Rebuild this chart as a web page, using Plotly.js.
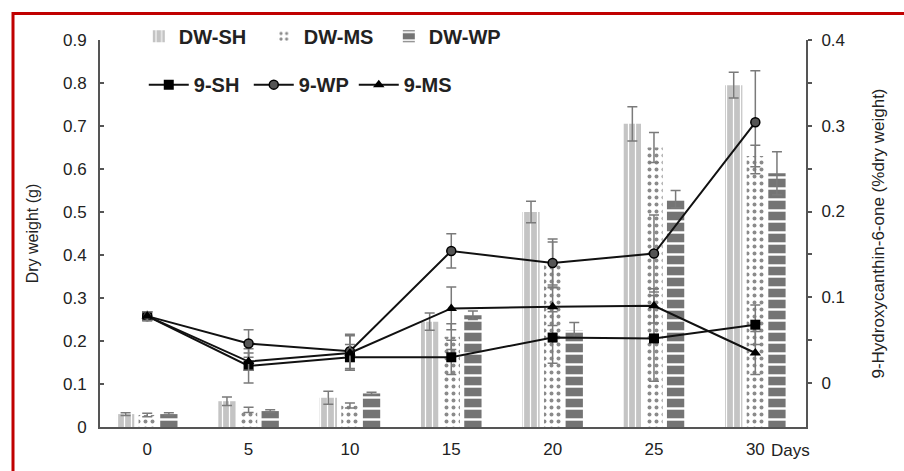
<!DOCTYPE html>
<html>
<head>
<meta charset="utf-8">
<script src="https://cdn.plot.ly/plotly-3.0.1.min.js"></script>
<style>
  html, body { margin: 0; padding: 0; background: #fff; }
  #chart { width: 904px; height: 471px; }
</style>
</head>
<body>
<div id="chart"></div>
<script>
// ---- data ----
const days = [0, 5, 10, 15, 20, 25, 30];
const xTickLabels = ['0', '5', '10', '15', '20', '25', '30'];

const dwSH    = [0.030, 0.060, 0.068, 0.245, 0.500, 0.705, 0.795];
const dwSHerr = [0.003, 0.010, 0.015, 0.020, 0.025, 0.040, 0.030];
const dwMS    = [0.028, 0.040, 0.050, 0.210, 0.380, 0.650, 0.630];
const dwMSerr = [0.004, 0.006, 0.006, 0.030, 0.050, 0.035, 0.025];
const dwWP    = [0.030, 0.037, 0.078, 0.260, 0.225, 0.530, 0.590];
const dwWPerr = [0.003, 0.003, 0.003, 0.010, 0.018, 0.020, 0.050];

const h9SH    = [0.078, 0.020, 0.030, 0.030, 0.053, 0.052, 0.068];
const h9SHerr = [0.005, 0.020, 0.015, 0.020, 0.030, 0.050, 0.023];
const h9WP    = [0.078, 0.046, 0.037, 0.154, 0.140, 0.151, 0.304];
const h9WPerr = [0.005, 0.016, 0.020, 0.020, 0.028, 0.045, 0.060];
const h9MS    = [0.078, 0.025, 0.035, 0.087, 0.089, 0.090, 0.035];
const h9MSerr = [0.005, 0.010, 0.020, 0.025, 0.022, 0.020, 0.025];

// ---- styling ----
const errStyle = (arr) => ({type: 'data', array: arr, visible: true, color: '#7a7a7a', thickness: 1.5, width: 5});
const FONT = 'Liberation Sans, Arial, sans-serif';
const LEGFONT = {family: 'Liberation Sans Narrow, Arial Narrow, Liberation Sans, sans-serif', size: 20, color: '#222', weight: 'bold'};

const traces = [
  {type: 'bar', name: 'DW-SH', x: days, y: dwSH, error_y: errStyle(dwSHerr), legend: 'legend',
   marker: {color: '#c4c4c4', line: {width: 0},
            pattern: {shape: '|', fgcolor: '#ffffff', bgcolor: '#c4c4c4', size: 7, solidity: 0.18}}},
  {type: 'bar', name: 'DW-MS', x: days, y: dwMS, error_y: errStyle(dwMSerr), legend: 'legend',
   marker: {color: '#ffffff', line: {width: 0},
            pattern: {shape: '.', fgcolor: '#8a8a8a', bgcolor: '#ffffff', size: 7, solidity: 0.25}}},
  {type: 'bar', name: 'DW-WP', x: days, y: dwWP, error_y: errStyle(dwWPerr), legend: 'legend',
   marker: {color: '#747474', line: {width: 0},
            pattern: {shape: '-', fgcolor: '#ffffff', bgcolor: '#747474', size: 11, solidity: 0.22}}},
  {type: 'scatter', mode: 'lines+markers', name: '9-SH', x: days, y: h9SH, yaxis: 'y2', legend: 'legend2',
   error_y: errStyle(h9SHerr), line: {color: '#111', width: 2},
   marker: {symbol: 'square', size: 10, color: '#000'}},
  {type: 'scatter', mode: 'lines+markers', name: '9-WP', x: days, y: h9WP, yaxis: 'y2', legend: 'legend2',
   error_y: errStyle(h9WPerr), line: {color: '#111', width: 2},
   marker: {symbol: 'circle', size: 9, color: '#555', line: {color: '#000', width: 1.5}}},
  {type: 'scatter', mode: 'lines+markers', name: '9-MS', x: days, y: h9MS, yaxis: 'y2', legend: 'legend2',
   error_y: errStyle(h9MSerr), line: {color: '#111', width: 2},
   marker: {symbol: 'triangle-up', size: 10, color: '#000'}}
];

const layout = {
  width: 904, height: 471,
  margin: {l: 100, r: 98, t: 40, b: 44},
  paper_bgcolor: '#ffffff', plot_bgcolor: '#ffffff',
  font: {family: FONT, size: 17, color: '#222'},
  barmode: 'group', bargap: 0.36, bargroupgap: 0.2,
  showlegend: true,
  xaxis: {
    range: [-2.33, 32.5], tickmode: 'array', tickvals: days, ticktext: xTickLabels,
    showgrid: false, zeroline: false, showline: true, linecolor: '#555', linewidth: 2,
    ticks: '', ticklabelstandoff: 6, tickfont: {size: 17, family: FONT, color: '#222'}
  },
  yaxis: {
    range: [0, 0.9], dtick: 0.1, tickformat: '.1~f',
    showgrid: false, zeroline: false, showline: true, linecolor: '#555', linewidth: 2,
    ticks: 'inside', ticklen: 4, tickcolor: '#555', tickwidth: 2, ticklabelstandoff: 8,
    tickfont: {size: 17, family: FONT, color: '#222'},
    title: {text: 'Dry weight (g)', font: {size: 16, family: FONT, color: '#222'}, standoff: 20}
  },
  yaxis2: {
    overlaying: 'y', side: 'right', range: [-0.0513, 0.4],
    tickmode: 'array', tickvals: [0, 0.1, 0.2, 0.3, 0.4], ticktext: ['0', '0.1', '0.2', '0.3', '0.4'],
    minor: {tickvals: [0.05, 0.15, 0.25, 0.35], ticks: 'outside', ticklen: 4, tickcolor: '#555', tickwidth: 2},
    showgrid: false, zeroline: false, showline: true, linecolor: '#555', linewidth: 2,
    ticks: 'outside', ticklen: 4, tickcolor: '#555', tickwidth: 2, ticklabelstandoff: 6,
    tickfont: {size: 17, family: FONT, color: '#222'},
    title: {text: '9-Hydroxycanthin-6-one (%dry weight)', font: {size: 17, family: FONT, color: '#222'}, standoff: 28}
  },
  legend: {
    orientation: 'h', x: 0.055, y: 1.06, xanchor: 'left', yanchor: 'top',
    bgcolor: 'rgba(0,0,0,0)', font: LEGFONT, entrywidth: 80, entrywidthmode: 'pixels',
    itemwidth: 30, traceorder: 'normal'
  },
  legend2: {
    orientation: 'h', x: 0.062, y: 0.935, xanchor: 'left', yanchor: 'top',
    bgcolor: 'rgba(0,0,0,0)', font: LEGFONT, entrywidth: 50, entrywidthmode: 'pixels',
    itemwidth: 40, traceorder: 'normal'
  },
  annotations: [
    {xref: 'paper', yref: 'paper', x: (790 - 100) / 706, y: -0.03, xanchor: 'center', yanchor: 'top',
     text: 'Days', showarrow: false, font: {size: 17, family: FONT, color: '#222'}}
  ],
  shapes: [
    {type: 'line', xref: 'paper', yref: 'paper', x0: (13 - 100) / 706, x1: (13 - 100) / 706,
     y0: (427 - 12) / 387, y1: (427 - 475) / 387, line: {color: '#c00000', width: 3}},
    {type: 'line', xref: 'paper', yref: 'paper', x0: (12 - 100) / 706, x1: (906 - 100) / 706,
     y0: (427 - 13.5) / 387, y1: (427 - 13.5) / 387, line: {color: '#c00000', width: 3}}
  ]
};

Plotly.newPlot('chart', traces, layout, {displayModeBar: false, staticPlot: true});
</script>
</body>
</html>
